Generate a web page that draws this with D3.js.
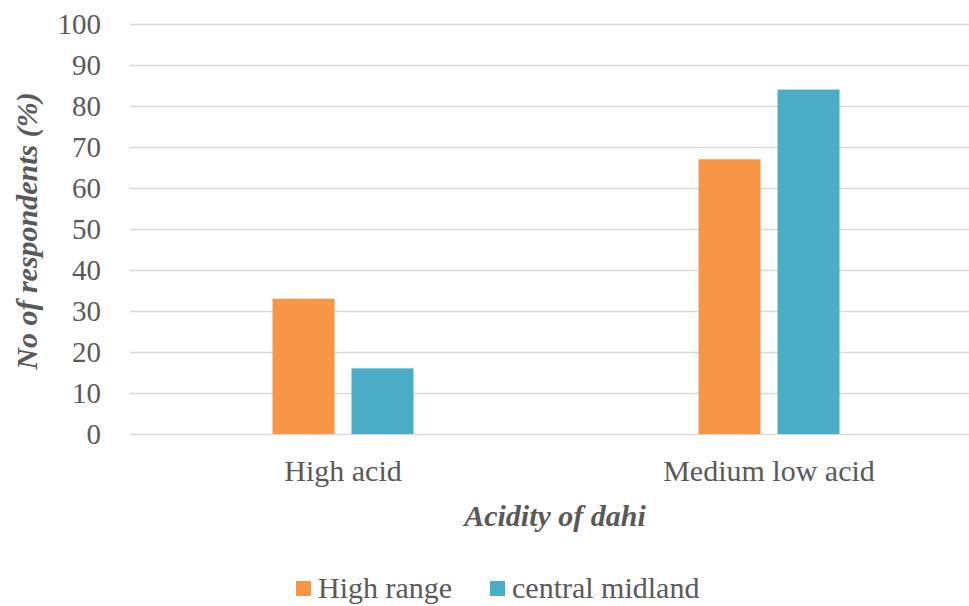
<!DOCTYPE html>
<html><head><meta charset="utf-8">
<script src="https://cdn.jsdelivr.net/npm/d3@7"></script>
<style>body{margin:0;background:#fff}svg{display:block}
text{font-family:"Liberation Serif","Times New Roman",serif}</style>
</head><body><svg id="c" width="969" height="606"></svg>
<script>
const categories = ["High acid", "Medium low acid"];
const seriesNames = ["High range", "central midland"];
const highRange = [33, 67];
const centralMidland = [16, 84];
const yTicks = [0,10,20,30,40,50,60,70,80,90,100];
const colors = ["#F79646", "#4BACC6"];

const series = [highRange, centralMidland];
const svg = d3.select("#c");
const x = d3.scaleBand().domain(categories).range([130, 982]);
const bw = x.bandwidth();
const xs = d3.scaleBand().domain(seriesNames).range([bw/2 - 70.5, bw/2 + 70.5]).paddingInner(0.215);
const y = d3.scaleLinear().domain([0, 100]).range([434, 24]);

const grid = svg.append("g").attr("transform","translate(130,0)")
  .call(d3.axisLeft(y).tickValues(yTicks).tickSize(-(969-130)).tickFormat(d=>d).tickPadding(29));
grid.select(".domain").remove();
grid.attr("font-family",null);
grid.selectAll(".tick line").attr("stroke","#d9d9d9").attr("stroke-width",1.3);
grid.selectAll(".tick text").attr("font-size",29).attr("fill","#595959").attr("dy","0.34em");

categories.forEach((c,i)=>{
  series.forEach((s,j)=>{
    svg.append("rect").attr("x", x(c)+xs(seriesNames[j])).attr("width", xs.bandwidth())
      .attr("y", y(s[i])).attr("height", y(0)-y(s[i])).attr("fill", colors[j]);
  });
});

const xa = svg.append("g").attr("transform","translate(0,434)")
  .call(d3.axisBottom(x).tickSize(0).tickPadding(0));
xa.select(".domain").remove();
xa.attr("font-family",null);
xa.selectAll("text").attr("font-size",30).attr("fill","#595959").attr("dy",null).attr("y",47);

svg.append("text").attr("x",555).attr("y",526).attr("text-anchor","middle")
  .attr("font-size",30).attr("font-weight","bold").attr("font-style","italic")
  .attr("fill","#595959").text("Acidity of dahi");
svg.append("text").attr("transform","translate(37,231) rotate(-90)").attr("text-anchor","middle")
  .attr("font-size",30).attr("font-weight","bold").attr("font-style","italic")
  .attr("fill","#595959").text("No of respondents (%)");

const lx = [296, 490];
seriesNames.forEach((n,j)=>{
  svg.append("rect").attr("x",lx[j]).attr("y",581).attr("width",15).attr("height",15).attr("fill",colors[j]);
  svg.append("text").attr("x",lx[j]+22).attr("y",598).attr("font-size",30)
    .attr("fill","#595959").text(n);
});
</script></body></html>
